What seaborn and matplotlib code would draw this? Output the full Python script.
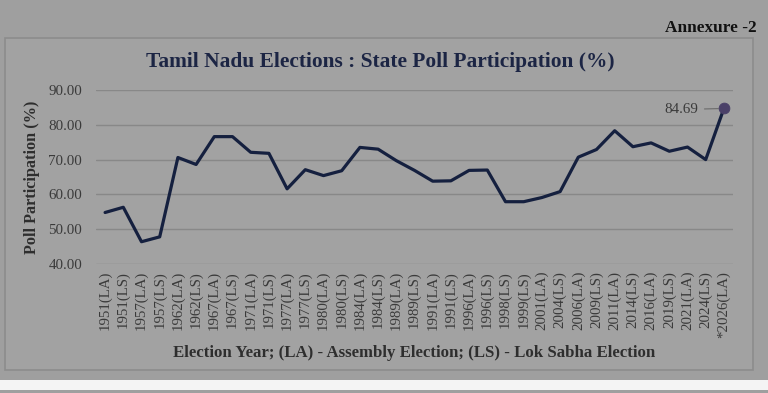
import matplotlib
matplotlib.use("Agg")
import matplotlib.pyplot as plt
import seaborn as sns
import pandas as pd
from matplotlib.patches import Rectangle

elections = ["1951(LA)", "1951(LS)", "1957(LA)", "1957(LS)", "1962(LA)", "1962(LS)",
             "1967(LA)", "1967(LS)", "1971(LA)", "1971(LS)", "1977(LA)", "1977(LS)",
             "1980(LA)", "1980(LS)", "1984(LA)", "1984(LS)", "1989(LA)", "1989(LS)",
             "1991(LA)", "1991(LS)", "1996(LA)", "1996(LS)", "1998(LS)", "1999(LS)",
             "2001(LA)", "2004(LS)", "2006(LA)", "2009(LS)", "2011(LA)", "2014(LS)",
             "2016(LA)", "2019(LS)", "2021(LA)", "2024(LS)", "*2026(LA)"]
participation = [54.8, 56.3, 46.4, 47.8, 70.6, 68.6, 76.6, 76.6, 72.1, 71.8,
                 61.6, 67.1, 65.4, 66.8, 73.5, 73.0, 69.7, 66.9, 63.8, 63.9,
                 66.9, 67.0, 57.9, 57.9, 59.1, 60.8, 70.7, 72.9, 78.3, 73.7,
                 74.8, 72.4, 73.6, 70.0, 84.69]
y_ticks = [40, 50, 60, 70, 80, 90]

df = pd.DataFrame({"election": elections, "turnout": participation})

sns.set_theme(style="white")
plt.rcParams["font.family"] = ["Liberation Serif", "DejaVu Serif"]

bg = "#9f9f9f"
fig = plt.figure(figsize=(7.68, 3.93), dpi=100, facecolor=bg)

# chart box
fig.patches.append(Rectangle((5 / 768, 1 - 370 / 393), 748 / 768, 332 / 393,
                             transform=fig.transFigure, facecolor="#a2a2a2",
                             edgecolor="#8c8c8c", linewidth=1.2, zorder=-10))
# white strip near bottom
fig.patches.append(Rectangle((0, 1 - 390 / 393), 1, 10 / 393,
                             transform=fig.transFigure, facecolor="#f4f4f4",
                             edgecolor="none", zorder=-10))

ax = fig.add_axes([96 / 768, 1 - 264 / 393, 637 / 768, 174 / 393])
ax.set_facecolor("none")
ax.set_zorder(5)

line_color = "#15203f"
sns.lineplot(data=df, x="election", y="turnout", sort=False, ax=ax,
             color=line_color, linewidth=2.3)
last = df.iloc[[-1]]
sns.scatterplot(data=last, x="election", y="turnout", ax=ax, color="#4a4068",
                s=60, edgecolor="#4a4068", zorder=5)

ax.set_xlim(-0.5, len(elections) - 0.5)
ax.set_ylim(40, 90)
ax.set_yticks(y_ticks)
ax.set_yticklabels([f"{v:.2f}" for v in y_ticks], fontsize=10.8, color="#3a3a3a")
ax.set_xticks(range(len(elections)))
ax.set_xticklabels(elections, rotation=90, fontsize=10.7, color="#3a3a3a")
ax.tick_params(axis="x", length=0, pad=5)
ax.tick_params(axis="y", length=0, pad=10)
ax.grid(axis="y", color="#888888", linewidth=1)
for s in ax.spines.values():
    s.set_visible(False)

ax.set_xlabel("Election Year; (LA) - Assembly Election; (LS) - Lok Sabha Election",
              fontsize=12.1, fontweight="bold", color="#2e2e2e", labelpad=5)
ax.set_ylabel("Poll Participation (%)", fontsize=11.7, fontweight="bold",
              color="#2e2e2e", labelpad=6)

# annotation for last point
n = len(elections) - 1
ax.annotate(f"{participation[-1]:.2f}", xy=(n, participation[-1]),
            xytext=(n - 1.4, participation[-1] - 0.3), ha="right", va="center",
            fontsize=10.8, color="#3a3a3a",
            arrowprops=dict(arrowstyle="-", color="#6a6a6a", lw=0.8,
                            shrinkA=2, shrinkB=4))

fig.text(380 / 768, 1 - 62 / 393, "Tamil Nadu Elections : State Poll Participation (%)",
         ha="center", va="center", fontsize=15.4, fontweight="bold", color="#1c2544")
fig.text(757 / 768, 1 - 28 / 393, "Annexure -2", ha="right", va="center",
         fontsize=12.4, fontweight="bold", color="#111111")

fig.savefig("out.png", dpi=100, facecolor=bg)
